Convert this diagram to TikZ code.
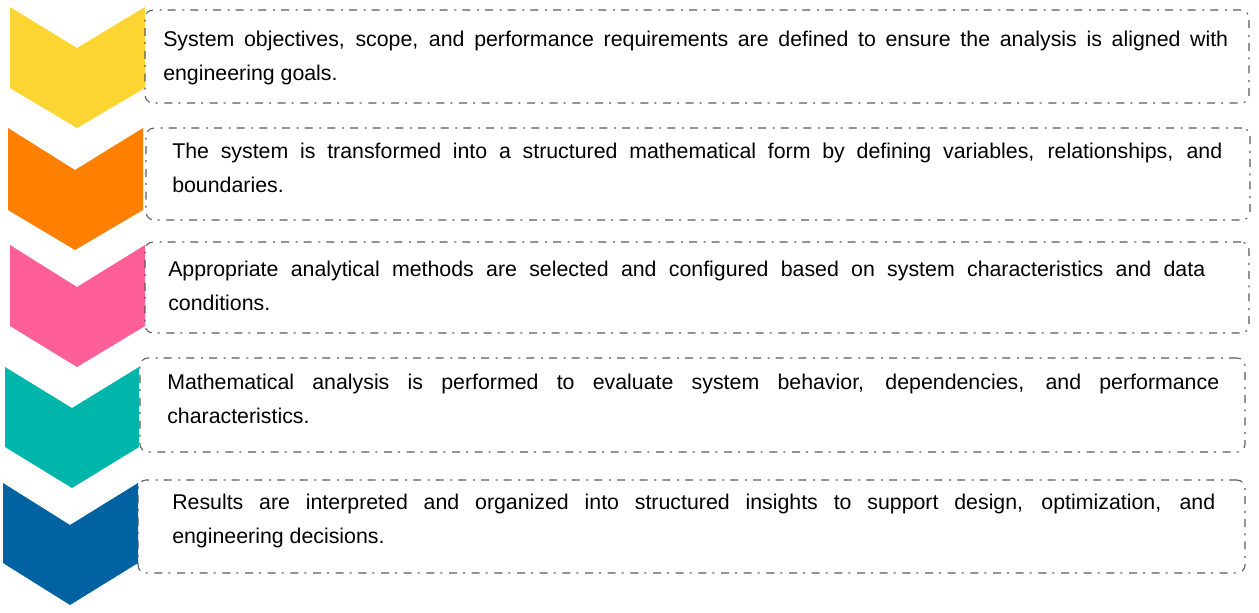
\documentclass[tikz,border=0pt]{standalone}
\usepackage{fontspec}
\setmainfont{Liberation Sans}
\usetikzlibrary{fit}

\definecolor{stepyellow}{RGB}{252,213,50}
\definecolor{steporange}{RGB}{255,128,0}
\definecolor{steppink}{RGB}{255,95,152}
\definecolor{stepteal}{RGB}{0,181,170}
\definecolor{stepblue}{RGB}{0,98,160}
\definecolor{boxline}{RGB}{90,90,90}

\tikzset{
  stepbox/.style={draw=boxline, line width=0.8pt, rounded corners=6pt, inner sep=0pt,
    dash pattern=on 6pt off 4.5pt on 1.5pt off 5pt},
  steptext/.style={anchor=north west, inner sep=0pt, align=justify, text=black,
    font=\fontsize{16}{25.5}\selectfont}
}

\begin{document}
\begin{tikzpicture}[x=0.75pt, y=-0.75pt]
    \useasboundingbox (0,0) rectangle (1259,612);

    % Chevrons
    \fill[stepyellow] (10,7) -- (77,48) -- (145,7) -- (145,88) -- (77,128) -- (10,88) -- cycle;
    \fill[steporange] (8,128) -- (75,170) -- (143,128) -- (143,210) -- (75,250) -- (8,210) -- cycle;
    \fill[steppink] (10,245) -- (77,287) -- (145,245) -- (145,326) -- (77,367) -- (10,326) -- cycle;
    \fill[stepteal] (5,367) -- (72,408) -- (139,367) -- (139,447) -- (72,488) -- (5,447) -- cycle;
    \fill[stepblue] (3,483) -- (70,525) -- (138,483) -- (138,563) -- (70,605) -- (3,563) -- cycle;

    % Boxes
    \node (box1) [stepbox, fit={(145,10) (1249,103)}] {};
    \node (box2) [stepbox, fit={(146,128) (1250,220)}] {};
    \node (box3) [stepbox, fit={(145,242) (1249,333)}] {};
    \node (box4) [stepbox, fit={(140,358) (1245,452)}] {};
    \node (box5) [stepbox, fit={(138,480) (1245,573)}] {};

    % Texts
    \node (text1) [steptext, text width=798.75pt] at (163,31) {System objectives, scope, and performance requirements are defined to ensure the analysis is aligned with\linebreak engineering goals.};
    \node (text2) [steptext, text width=787.5pt] at (172,143) {The system is transformed into a structured mathematical form by defining variables, relationships, and\linebreak boundaries.};
    \node (text3) [steptext, text width=777.75pt] at (168,261) {Appropriate analytical methods are selected and configured based on system characteristics and data\linebreak conditions.};
    \node (text4) [steptext, text width=789pt] at (167,374) {Mathematical analysis is performed to evaluate system behavior, dependencies, and performance\linebreak characteristics.};
    \node (text5) [steptext, text width=782.25pt] at (172,494) {Results are interpreted and organized into structured insights to support design, optimization, and\linebreak engineering decisions.};

\end{tikzpicture}
\end{document}
